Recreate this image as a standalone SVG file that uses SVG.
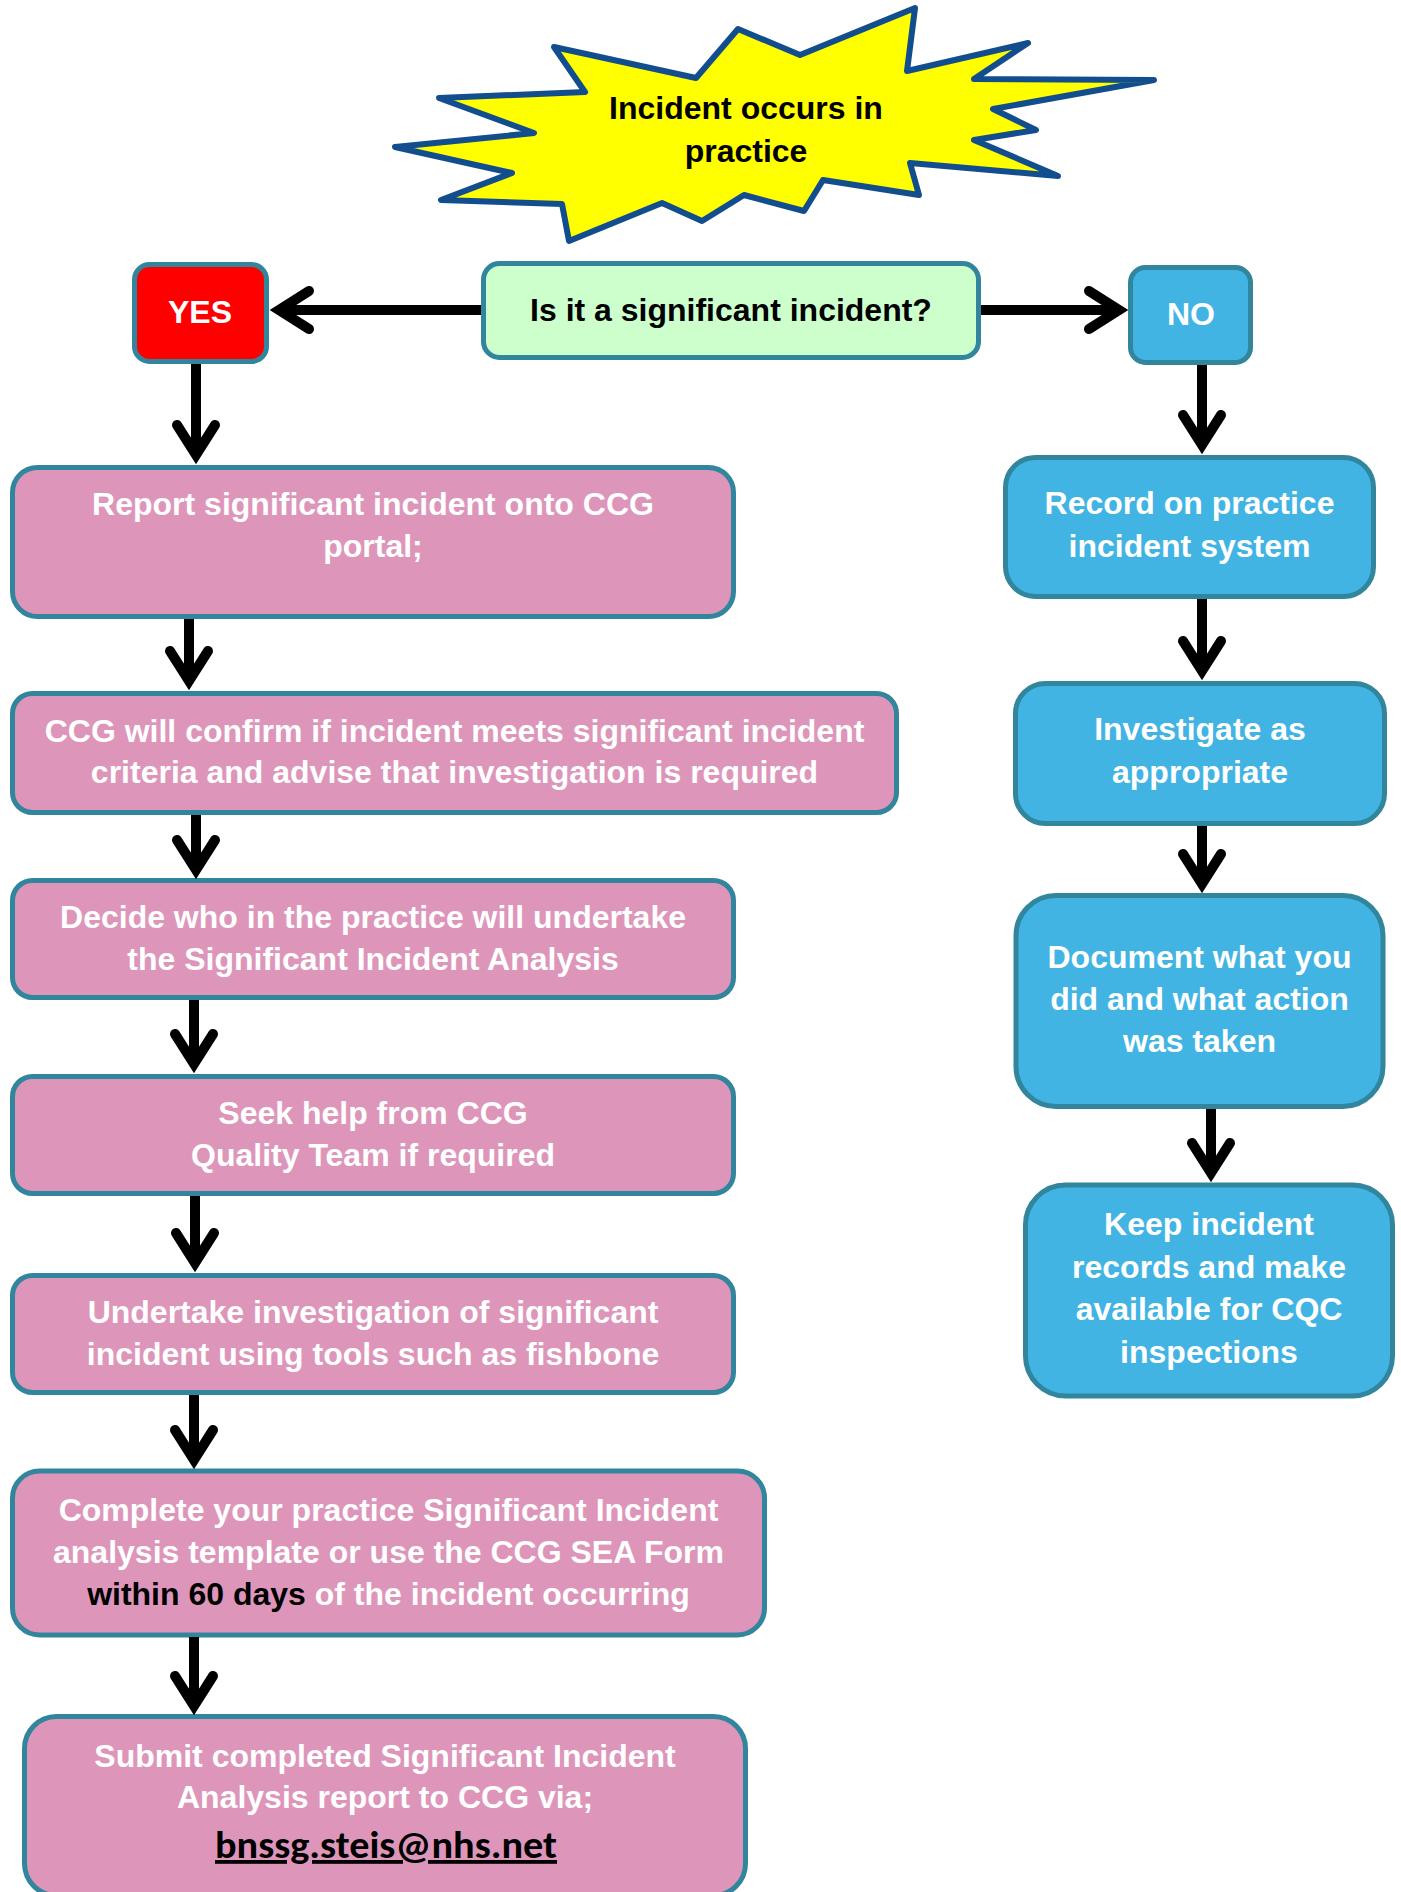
<svg xmlns="http://www.w3.org/2000/svg" width="1401" height="1892" viewBox="0 0 1401 1892">
<defs>
<style>
.box{stroke:#31859C;stroke-width:5}
.pink{fill:#DD96BA}
.blue{fill:#42B4E4}
.t{font-family:"Liberation Sans",Arial,sans-serif;font-weight:bold;font-size:32px;text-anchor:middle}
.w{fill:#FFFFFF}
.k{fill:#000000}
.conn{stroke:#000;stroke-width:10;fill:none}
</style>
<marker id="ah" markerUnits="userSpaceOnUse" markerWidth="80" markerHeight="80" refX="0" refY="0" orient="auto" overflow="visible">
<path d="M-30,-19 L0,0 L-30,19" fill="none" stroke="#000" stroke-width="10" stroke-linecap="round" stroke-linejoin="miter"/>
</marker>
</defs>
<rect width="1401" height="1892" fill="#FFFFFF"/>

<g id="start">
<polygon points="554,47 585,92 439,98 534,133 395,147 512,173 441,200 562,204 569,241 662,203 702,221 744,195 804,211 823,180 919,195 910,163 1058,176 974,140 1036,130 993,109 1154,80 974,79 1028,43 907,71 915,8 800,55 738,29 696,78" fill="#FFFF00" stroke="#124E8E" stroke-width="6" stroke-linejoin="round"/>
<text class="t k" x="746" y="119">Incident occurs in</text>
<text class="t k" x="746" y="162">practice</text>
</g>

<g id="question">
<rect class="box" x="483.5" y="263.5" width="495" height="94" rx="16" fill="#CCFFCC"/>
<text class="t k" x="731" y="321">Is it a significant incident?</text>
</g>

<g id="yes">
<rect class="box" x="134.5" y="264.5" width="132" height="97" rx="15" fill="#FF0000"/>
<text class="t w" x="200" y="323">YES</text>
</g>

<g id="no">
<rect class="box blue" x="1130.5" y="267.5" width="120" height="95" rx="15"/>
<text class="t w" x="1191" y="325">NO</text>
</g>

<g id="report">
<rect class="box pink" x="12.5" y="467.5" width="721" height="149" rx="25"/>
<text class="t w" x="373" y="515">Report significant incident onto CCG</text>
<text class="t w" x="373" y="557">portal;</text>
</g>

<g id="confirm">
<rect class="box pink" x="12.5" y="693.5" width="884" height="119" rx="20"/>
<text class="t w" x="454.5" y="742">CCG will confirm if incident meets significant incident</text>
<text class="t w" x="454.5" y="783">criteria and advise that investigation is required</text>
</g>

<g id="decide">
<rect class="box pink" x="12.5" y="880.5" width="721" height="117" rx="20"/>
<text class="t w" x="373" y="928">Decide who in the practice will undertake</text>
<text class="t w" x="373" y="970">the Significant Incident Analysis</text>
</g>

<g id="seekhelp">
<rect class="box pink" x="12.5" y="1076.5" width="721" height="117" rx="20"/>
<text class="t w" x="373" y="1124">Seek help from CCG</text>
<text class="t w" x="373" y="1166">Quality Team if required</text>
</g>

<g id="undertake">
<rect class="box pink" x="12.5" y="1275.5" width="721" height="117" rx="20"/>
<text class="t w" x="373" y="1323">Undertake investigation of significant</text>
<text class="t w" x="373" y="1365">incident using tools such as fishbone</text>
</g>

<g id="complete">
<rect class="box pink" x="12.5" y="1471" width="752" height="164" rx="27"/>
<text class="t w" x="388.5" y="1521">Complete your practice Significant Incident</text>
<text class="t w" x="388.5" y="1563">analysis template or use the CCG SEA Form</text>
<text class="t w" x="388.5" y="1605"><tspan class="k">within 60 days</tspan> of the incident occurring</text>
</g>

<g id="submit">
<rect class="box pink" x="24.5" y="1716.5" width="721" height="179" rx="32"/>
<text class="t w" x="385" y="1767">Submit completed Significant Incident</text>
<text class="t w" x="385" y="1808">Analysis report to CCG via;</text>
<text x="386" y="1858" font-family="Carlito, Lato, 'Open Sans', sans-serif" font-weight="bold" font-size="38" text-anchor="middle" fill="#000" text-decoration="underline" textLength="342" lengthAdjust="spacingAndGlyphs">bnssg.steis@nhs.net</text>
</g>

<g id="record">
<rect class="box blue" x="1005.5" y="457.5" width="368" height="139" rx="30"/>
<text class="t w" x="1189.5" y="514">Record on practice</text>
<text class="t w" x="1189.5" y="557">incident system</text>
</g>

<g id="investigate">
<rect class="box blue" x="1015.5" y="683.5" width="369" height="140" rx="30"/>
<text class="t w" x="1200" y="740">Investigate as</text>
<text class="t w" x="1200" y="783">appropriate</text>
</g>

<g id="document">
<rect class="box blue" x="1016" y="895.5" width="367" height="211" rx="40"/>
<text class="t w" x="1199.5" y="968">Document what you</text>
<text class="t w" x="1199.5" y="1010">did and what action</text>
<text class="t w" x="1199.5" y="1052">was taken</text>
</g>

<g id="keep">
<rect class="box blue" x="1025.5" y="1185" width="367" height="211" rx="40"/>
<text class="t w" x="1209" y="1235">Keep incident</text>
<text class="t w" x="1209" y="1278">records and make</text>
<text class="t w" x="1209" y="1320">available for CQC</text>
<text class="t w" x="1209" y="1363">inspections</text>
</g>

<g id="connectors">
<path class="conn" d="M481,310 L279,310" marker-end="url(#ah)"/>
<path class="conn" d="M981,310 L1119,310" marker-end="url(#ah)"/>
<path class="conn" d="M196,364 L196,455" marker-end="url(#ah)"/>
<path class="conn" d="M1202,365 L1202,445" marker-end="url(#ah)"/>
<path class="conn" d="M189,619 L189,681" marker-end="url(#ah)"/>
<path class="conn" d="M196,815 L196,870" marker-end="url(#ah)"/>
<path class="conn" d="M194,1000 L194,1064" marker-end="url(#ah)"/>
<path class="conn" d="M195,1196 L195,1263" marker-end="url(#ah)"/>
<path class="conn" d="M194,1395 L194,1460" marker-end="url(#ah)"/>
<path class="conn" d="M194,1637 L194,1706" marker-end="url(#ah)"/>
<path class="conn" d="M1202,599 L1202,671" marker-end="url(#ah)"/>
<path class="conn" d="M1202,826 L1202,884" marker-end="url(#ah)"/>
<path class="conn" d="M1211,1109 L1211,1173" marker-end="url(#ah)"/>
</g>
</svg>
